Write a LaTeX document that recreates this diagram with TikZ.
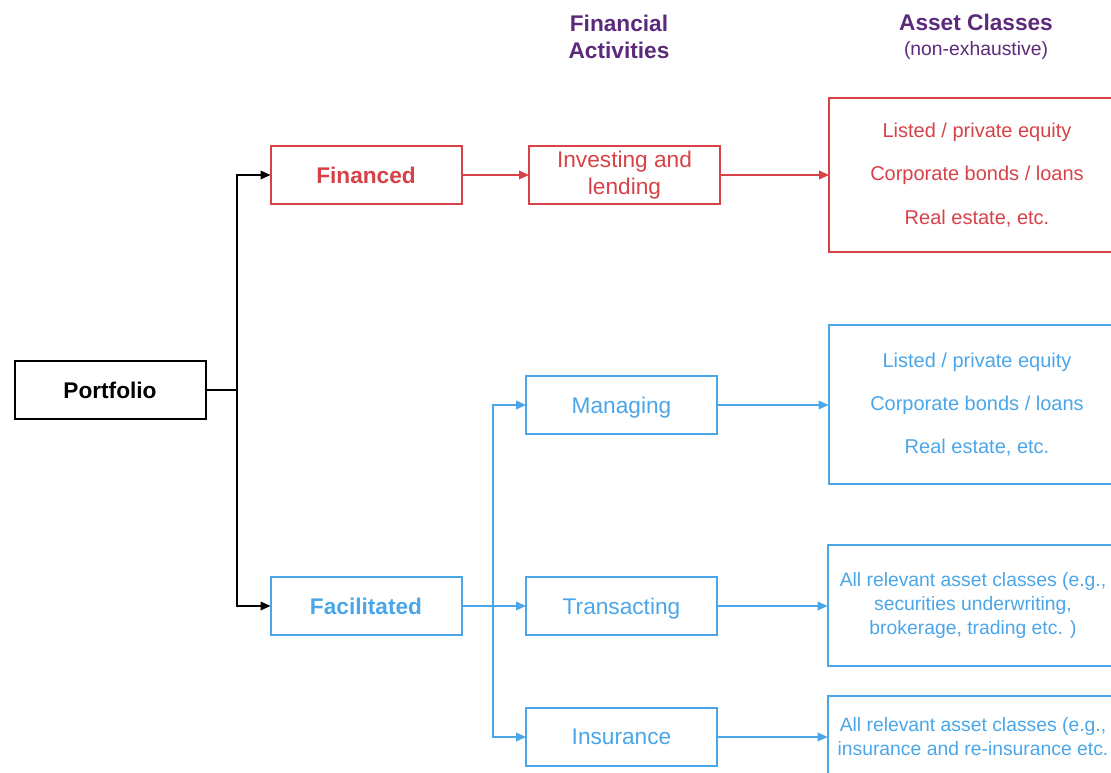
\documentclass[tikz,border=0pt]{standalone}
\usepackage{fontspec}
\setmainfont{Liberation Sans}
\usetikzlibrary{arrows.meta}
\definecolor{cred}{RGB}{214,66,72}
\definecolor{cblue}{RGB}{74,166,232}
\definecolor{cpurple}{RGB}{92,42,122}
\tikzset{
  every node/.style={inner sep=0pt, outer sep=0pt},
  box/.style={draw, rectangle, line width=1.5pt, minimum width=143.25pt, minimum height=43.5pt, align=center, font=\fontsize{17}{20.5}\selectfont},
  one/.style={text depth=0pt},
  bigbox/.style={draw, rectangle, line width=1.5pt, align=center, font=\fontsize{15}{17}\selectfont},
  conn/.style={line width=1.1pt, -{Triangle[length=7.5pt,width=6.5pt]}},
  plain/.style={line width=1.1pt},
  hdr/.style={text=cpurple, align=center, font=\fontsize{17}{20.5}\selectfont\bfseries},
}
\begin{document}
\begin{tikzpicture}[x=0.75pt,y=-0.75pt]
\useasboundingbox (0,0) rectangle (1111,773);
\clip (0,0) rectangle (1111,773);
% headers
\node[hdr] (hfa) at (619,37) {Financial\\[-0.5pt]Activities};
\node[hdr, anchor=base] (hac) at (976,31) {Asset Classes};
\node[text=cpurple, anchor=base, font=\fontsize{14.5}{17}\selectfont] (hne) at (976,56) {(non-exhaustive)};
% nodes
\node[box, one, draw=black, font=\fontsize{17}{20.5}\selectfont\bfseries] (port) at (110,390) {Portfolio};
\node[box, one, draw=cred, text=cred, font=\fontsize{17}{20.5}\selectfont\bfseries] (fin) at (366,175) {Financed};
\node[box, draw=cred, text=cred] (inv) at (624.5,175) {Investing and\\lending};
\node[bigbox, draw=cred, text=cred, minimum width=222pt, minimum height=115.5pt, font=\fontsize{15}{32.6}\selectfont] (ac1) at (977,175) {Listed / private equity\\Corporate bonds / loans\\Real estate, etc.};
\node[box, one, draw=cblue, text=cblue, font=\fontsize{17}{20.5}\selectfont\bfseries] (fac) at (366,606) {Facilitated};
\node[box, one, draw=cblue, text=cblue] (man) at (621.5,405) {Managing};
\node[box, one, draw=cblue, text=cblue] (tra) at (621.5,606) {Transacting};
\node[box, one, draw=cblue, text=cblue] (ins) at (621.5,737) {Insurance};
\node[bigbox, draw=cblue, text=cblue, minimum width=222.75pt, minimum height=119.25pt, font=\fontsize{15}{32.6}\selectfont] (ac2) at (977,404.5) {Listed / private equity\\Corporate bonds / loans\\Real estate, etc.};
\node[bigbox, draw=cblue, text=cblue, minimum width=218pt, minimum height=90.75pt, font=\fontsize{14.5}{18}\selectfont] (ac3) at (973,605.5) {All relevant asset classes (e.g.,\\securities underwriting,\\brokerage, trading etc. )};
\node[bigbox, draw=cblue, text=cblue, minimum width=218pt, minimum height=61.5pt, font=\fontsize{14.5}{18}\selectfont] (ac4) at (973,737) {All relevant asset classes (e.g.,\\insurance and re-insurance etc.};
% connectors
\coordinate (pj) at (237,390);
\draw[plain] (port.east) -- (pj);
\draw[conn] (pj) |- (fin.west);
\draw[conn] (pj) |- (fac.west);
\draw[conn, cred] (fin.east) -- (inv.west);
\draw[conn, cred] (inv.east) -- (ac1.west);
\coordinate (fj) at (493,606);
\draw[conn, cblue] (fac.east) -- (tra.west);
\draw[conn, cblue] (fj) |- (man.west);
\draw[conn, cblue] (fj) |- (ins.west);
\draw[conn, cblue] (man.east) -- (man.east -| ac2.west);
\draw[conn, cblue] (tra.east) -- (tra.east -| ac3.west);
\draw[conn, cblue] (ins.east) -- (ins.east -| ac4.west);
\end{tikzpicture}
\end{document}
